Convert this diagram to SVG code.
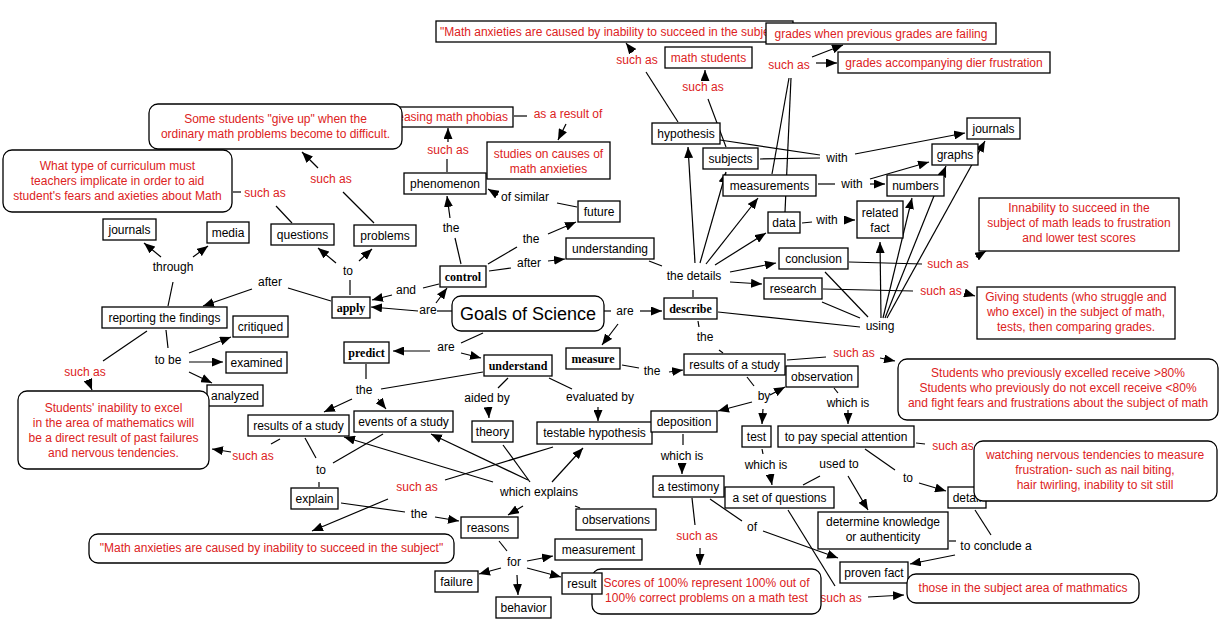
<svg xmlns="http://www.w3.org/2000/svg" width="1219" height="638" viewBox="0 0 1219 638">
<style>
.box{fill:#fff;stroke:#000;stroke-width:1.3}
text{font-family:"Liberation Sans",Arial,sans-serif;font-size:12px;text-anchor:middle;fill:#000}
.red{fill:#dc2222}
.bold{font-family:"Liberation Serif","Times New Roman",serif;font-weight:bold}
.big{font-size:18px}
#connectors line{stroke:#000;stroke-width:1.2}
#connectors line.ar{marker-end:url(#ah)}
</style>
<defs>
<marker id="ah" markerWidth="11" markerHeight="9" refX="11" refY="4.5" orient="auto" markerUnits="userSpaceOnUse"><path d="M0,0 L11,4.5 L0,9 z" fill="#000"/></marker>
</defs>
<rect width="1219" height="638" fill="#fff"/>
<g id="connectors">
<line x1="678" y1="122" x2="646" y2="72"/>
<line class="ar" x1="633" y1="52" x2="626" y2="43"/>
<line x1="726" y1="147" x2="708" y2="99"/>
<line class="ar" x1="705" y1="80" x2="705" y2="70"/>
<line x1="772" y1="174" x2="789" y2="78"/>
<line x1="785" y1="212" x2="791" y2="78"/>
<line class="ar" x1="812" y1="57" x2="843" y2="45"/>
<line class="ar" x1="816" y1="63" x2="837" y2="63"/>
<line x1="514" y1="116" x2="527" y2="116"/>
<line class="ar" x1="566" y1="124" x2="558" y2="140"/>
<line x1="447" y1="172" x2="447" y2="159"/>
<line class="ar" x1="448" y1="142" x2="448" y2="128"/>
<line x1="577" y1="207" x2="557" y2="203"/>
<line class="ar" x1="498" y1="195" x2="488" y2="189"/>
<line x1="461" y1="264" x2="455" y2="238"/>
<line class="ar" x1="450" y1="218" x2="447" y2="196"/>
<line x1="488" y1="264" x2="517" y2="247"/>
<line class="ar" x1="548" y1="234" x2="576" y2="222"/>
<line x1="489" y1="271" x2="511" y2="268"/>
<line class="ar" x1="548" y1="261" x2="565" y2="259"/>
<line x1="649" y1="261" x2="662" y2="266"/>
<line x1="439" y1="284" x2="423" y2="288"/>
<line class="ar" x1="392" y1="295" x2="372" y2="300"/>
<line x1="452" y1="311" x2="437" y2="311"/>
<line class="ar" x1="418" y1="311" x2="371" y2="307"/>
<line class="ar" x1="436" y1="303" x2="447" y2="288"/>
<line x1="350" y1="295" x2="350" y2="280"/>
<line class="ar" x1="336" y1="263" x2="318" y2="248"/>
<line class="ar" x1="359" y1="261" x2="372" y2="249"/>
<line x1="292" y1="223" x2="276" y2="206"/>
<line x1="241" y1="192" x2="233" y2="192"/>
<line x1="374" y1="223" x2="343" y2="192"/>
<line class="ar" x1="318" y1="168" x2="302" y2="152"/>
<line x1="331" y1="301" x2="288" y2="288"/>
<line class="ar" x1="252" y1="289" x2="203" y2="306"/>
<line x1="168" y1="306" x2="173" y2="282"/>
<line class="ar" x1="161" y1="257" x2="144" y2="243"/>
<line class="ar" x1="193" y1="257" x2="208" y2="246"/>
<line x1="166" y1="330" x2="168" y2="348"/>
<line class="ar" x1="189" y1="353" x2="231" y2="337"/>
<line class="ar" x1="189" y1="362" x2="223" y2="362"/>
<line class="ar" x1="189" y1="372" x2="212" y2="383"/>
<line x1="147" y1="331" x2="103" y2="361"/>
<line class="ar" x1="88" y1="380" x2="92" y2="390"/>
<line x1="483" y1="333" x2="461" y2="343"/>
<line class="ar" x1="430" y1="351" x2="393" y2="351"/>
<line class="ar" x1="461" y1="353" x2="481" y2="358"/>
<line x1="604" y1="311" x2="611" y2="311"/>
<line class="ar" x1="640" y1="311" x2="662" y2="311"/>
<line class="ar" x1="618" y1="324" x2="602" y2="345"/>
<line x1="693" y1="297" x2="693" y2="290"/>
<line class="ar" x1="695" y1="263" x2="688" y2="147"/>
<line class="ar" x1="700" y1="263" x2="726" y2="172"/>
<line class="ar" x1="706" y1="264" x2="758" y2="198"/>
<line class="ar" x1="715" y1="265" x2="766" y2="233"/>
<line class="ar" x1="730" y1="272" x2="776" y2="263"/>
<line class="ar" x1="730" y1="282" x2="762" y2="284"/>
<line x1="760" y1="159" x2="820" y2="158"/>
<line x1="720" y1="140" x2="820" y2="155"/>
<line class="ar" x1="855" y1="154" x2="965" y2="133"/>
<line x1="818" y1="184" x2="835" y2="184"/>
<line class="ar" x1="870" y1="184" x2="885" y2="184"/>
<line class="ar" x1="870" y1="179" x2="929" y2="162"/>
<line x1="802" y1="223" x2="812" y2="222"/>
<line class="ar" x1="844" y1="220" x2="855" y2="220"/>
<line class="ar" x1="881" y1="318" x2="880" y2="242"/>
<line class="ar" x1="883" y1="318" x2="912" y2="198"/>
<line class="ar" x1="885" y1="318" x2="946" y2="166"/>
<line class="ar" x1="887" y1="318" x2="985" y2="141"/>
<line x1="825" y1="272" x2="868" y2="317"/>
<line x1="822" y1="302" x2="860" y2="318"/>
<line x1="718" y1="312" x2="860" y2="327"/>
<line x1="849" y1="262" x2="922" y2="264"/>
<line class="ar" x1="976" y1="257" x2="986" y2="251"/>
<line x1="823" y1="289" x2="913" y2="291"/>
<line class="ar" x1="965" y1="293" x2="975" y2="296"/>
<line x1="698" y1="321" x2="699" y2="327"/>
<line x1="719" y1="350" x2="723" y2="353"/>
<line x1="622" y1="365" x2="639" y2="368"/>
<line class="ar" x1="669" y1="372" x2="683" y2="370"/>
<line x1="787" y1="360" x2="826" y2="357"/>
<line class="ar" x1="880" y1="358" x2="895" y2="361"/>
<line x1="747" y1="377" x2="754" y2="386"/>
<line class="ar" x1="770" y1="395" x2="785" y2="387"/>
<line class="ar" x1="752" y1="402" x2="718" y2="411"/>
<line class="ar" x1="763" y1="409" x2="762" y2="424"/>
<line x1="834" y1="388" x2="838" y2="393"/>
<line class="ar" x1="848" y1="410" x2="848" y2="424"/>
<line x1="683" y1="434" x2="683" y2="445"/>
<line class="ar" x1="682" y1="464" x2="682" y2="474"/>
<line x1="762" y1="449" x2="763" y2="454"/>
<line class="ar" x1="770" y1="474" x2="772" y2="485"/>
<line x1="803" y1="485" x2="820" y2="476"/>
<line class="ar" x1="848" y1="476" x2="868" y2="510"/>
<line x1="865" y1="449" x2="895" y2="470"/>
<line class="ar" x1="919" y1="483" x2="946" y2="491"/>
<line x1="916" y1="443" x2="925" y2="444"/>
<line x1="975" y1="510" x2="991" y2="535"/>
<line class="ar" x1="955" y1="555" x2="910" y2="564"/>
<line x1="949" y1="541" x2="956" y2="541"/>
<line x1="692" y1="498" x2="695" y2="525"/>
<line class="ar" x1="700" y1="548" x2="700" y2="565"/>
<line x1="710" y1="499" x2="742" y2="521"/>
<line class="ar" x1="763" y1="531" x2="838" y2="558"/>
<line x1="788" y1="510" x2="835" y2="586"/>
<line class="ar" x1="868" y1="597" x2="904" y2="595"/>
<line x1="508" y1="378" x2="498" y2="388"/>
<line class="ar" x1="488" y1="407" x2="489" y2="418"/>
<line x1="549" y1="378" x2="572" y2="389"/>
<line class="ar" x1="598" y1="407" x2="598" y2="421"/>
<line x1="483" y1="372" x2="381" y2="389"/>
<line x1="366" y1="364" x2="366" y2="379"/>
<line class="ar" x1="352" y1="399" x2="324" y2="412"/>
<line class="ar" x1="378" y1="399" x2="386" y2="409"/>
<line x1="305" y1="438" x2="316" y2="458"/>
<line x1="383" y1="434" x2="333" y2="463"/>
<line x1="319" y1="482" x2="319" y2="487"/>
<line x1="280" y1="439" x2="271" y2="444"/>
<line class="ar" x1="231" y1="452" x2="212" y2="449"/>
<line x1="341" y1="503" x2="405" y2="512"/>
<line class="ar" x1="435" y1="517" x2="459" y2="521"/>
<line x1="553" y1="447" x2="445" y2="480"/>
<line class="ar" x1="388" y1="499" x2="312" y2="531"/>
<line class="ar" x1="493" y1="482" x2="344" y2="437"/>
<line class="ar" x1="528" y1="480" x2="431" y2="434"/>
<line class="ar" x1="552" y1="482" x2="583" y2="448"/>
<line x1="503" y1="445" x2="530" y2="482"/>
<line class="ar" x1="523" y1="506" x2="508" y2="515"/>
<line x1="575" y1="506" x2="580" y2="508"/>
<line x1="499" y1="541" x2="507" y2="551"/>
<line class="ar" x1="527" y1="561" x2="553" y2="556"/>
<line class="ar" x1="527" y1="568" x2="561" y2="577"/>
<line class="ar" x1="501" y1="568" x2="479" y2="574"/>
<line class="ar" x1="517" y1="575" x2="518" y2="595"/>
</g>
<g id="linking-phrases">
<text id="lp1" class="red" x="637" y="64">such as</text>
<text id="lp2" class="red" x="703" y="91">such as</text>
<text id="lp3" class="red" x="789" y="69">such as</text>
<text id="lp4" class="red" x="568" y="118">as a result of</text>
<text id="lp5" class="red" x="448" y="154">such as</text>
<text id="lp6" x="525" y="201">of similar</text>
<text id="lp7" x="451" y="232">the</text>
<text id="lp8" x="531" y="243">the</text>
<text id="lp9" x="529" y="267">after</text>
<text id="lp10" x="406" y="294">and</text>
<text id="lp11" x="428" y="314">are</text>
<text id="lp12" x="625" y="315">are</text>
<text id="lp13" x="446" y="351">are</text>
<text id="lp14" x="348" y="275">to</text>
<text id="lp15" class="red" x="265" y="197">such as</text>
<text id="lp16" class="red" x="331" y="183">such as</text>
<text id="lp17" x="173" y="271">through</text>
<text id="lp18" x="270" y="286">after</text>
<text id="lp19" x="168" y="364">to be</text>
<text id="lp20" class="red" x="85" y="376">such as</text>
<text id="lp21" x="694" y="280">the details</text>
<text id="lp22" x="837" y="162">with</text>
<text id="lp23" x="852" y="188">with</text>
<text id="lp24" x="827" y="224">with</text>
<text id="lp25" x="880" y="330">using</text>
<text id="lp26" class="red" x="948" y="268">such as</text>
<text id="lp27" class="red" x="941" y="295">such as</text>
<text id="lp28" x="705" y="341">the</text>
<text id="lp29" x="652" y="375">the</text>
<text id="lp30" class="red" x="854" y="357">such as</text>
<text id="lp31" x="764" y="400">by</text>
<text id="lp32" x="848" y="407">which is</text>
<text id="lp33" x="682" y="460">which is</text>
<text id="lp34" x="766" y="469">which is</text>
<text id="lp35" x="839" y="468">used to</text>
<text id="lp36" x="908" y="482">to</text>
<text id="lp37" class="red" x="953" y="450">such as</text>
<text id="lp38" x="996" y="550">to conclude a</text>
<text id="lp39" x="752" y="531">of</text>
<text id="lp40" class="red" x="697" y="540">such as</text>
<text id="lp41" class="red" x="841" y="602">such as</text>
<text id="lp42" x="487" y="402">aided by</text>
<text id="lp43" x="600" y="401">evaluated by</text>
<text id="lp44" x="364" y="394">the</text>
<text id="lp45" x="321" y="474">to</text>
<text id="lp46" class="red" x="253" y="460">such as</text>
<text id="lp47" x="419" y="518">the</text>
<text id="lp48" class="red" x="417" y="491">such as</text>
<text id="lp49" x="539" y="496">which explains</text>
<text id="lp50" x="514" y="566">for</text>
</g>
<g id="nodes">
<g id="n-math-top"><rect class="box" x="436" y="21" width="357" height="21"/><text class="red" x="440" y="35.5" style="text-anchor:start">"Math anxieties are caused by inability to succeed in the subject"</text></g>
<g id="n-grades-failing"><rect class="box" x="766" y="23" width="230" height="21"/><text class="red" x="881" y="38">grades when previous grades are failing</text></g>
<g id="n-math-students"><rect class="box" x="665" y="47" width="87" height="21"/><text class="red" x="708.5" y="62">math students</text></g>
<g id="n-grades-acc"><rect class="box" x="838" y="52" width="212" height="21"/><text class="red" x="944" y="67">grades accompanying dier frustration</text></g>
<g id="n-phobias"><rect class="box" x="372" y="107" width="141" height="20"/><text class="red" x="508" y="121" style="text-anchor:end">increasing math phobias</text></g>
<g id="n-give-up"><rect class="box" x="149" y="104" width="253" height="45" rx="9"/><text class="red" x="275.5" y="123">Some students "give up" when the<tspan x="275.5" dy="15">ordinary math problems become to difficult.</tspan></text></g>
<g id="n-studies"><rect class="box" x="487" y="142" width="123" height="37"/><text class="red" x="548.5" y="158">studies on causes of<tspan x="548.5" dy="15">math anxieties</tspan></text></g>
<g id="n-phenomenon"><rect class="box" x="404" y="173" width="82" height="21"/><text x="445" y="188">phenomenon</text></g>
<g id="n-future"><rect class="box" x="578" y="201" width="42" height="21"/><text x="599" y="216">future</text></g>
<g id="n-hypothesis"><rect class="box" x="652" y="123" width="68" height="21"/><text x="686" y="138">hypothesis</text></g>
<g id="n-subjects"><rect class="box" x="703" y="148" width="55" height="21"/><text x="730.5" y="163">subjects</text></g>
<g id="n-measurements"><rect class="box" x="723" y="175" width="93" height="21"/><text x="769.5" y="190">measurements</text></g>
<g id="n-data"><rect class="box" x="768" y="212" width="32" height="21"/><text x="784" y="227">data</text></g>
<g id="n-related-fact"><rect class="box" x="857" y="201" width="46" height="37"/><text x="880" y="217">related<tspan x="880" dy="15">fact</tspan></text></g>
<g id="n-numbers"><rect class="box" x="887" y="175" width="57" height="21"/><text x="915.5" y="190">numbers</text></g>
<g id="n-graphs"><rect class="box" x="932" y="144" width="46" height="21"/><text x="955" y="159">graphs</text></g>
<g id="n-journals-r"><rect class="box" x="967" y="118" width="53" height="21"/><text x="993.5" y="133">journals</text></g>
<g id="n-conclusion"><rect class="box" x="779" y="248" width="69" height="21"/><text x="813.5" y="263">conclusion</text></g>
<g id="n-research"><rect class="box" x="764" y="278" width="58" height="21"/><text x="793" y="293">research</text></g>
<g id="n-describe"><rect class="box" x="664" y="298" width="53" height="21"/><text class="bold" x="690.5" y="313">describe</text></g>
<g id="n-innability"><rect class="box" x="979" y="198" width="200" height="53"/><text class="red" x="1079" y="212">Innability to succeed in the<tspan x="1079" dy="15">subject of math leads to frustration</tspan><tspan x="1079" dy="15">and lower test scores</tspan></text></g>
<g id="n-giving"><rect class="box" x="977" y="287" width="198" height="52"/><text class="red" x="1076" y="301">Giving students (who struggle and<tspan x="1076" dy="15">who excel) in the subject of math,</tspan><tspan x="1076" dy="15">tests, then comparing grades.</tspan></text></g>
<g id="n-students-prev"><rect class="box" x="898" y="359" width="320" height="61" rx="9"/><text class="red" x="1058" y="377">Students who previously excelled receive &gt;80%<tspan x="1058" dy="15">Students who previously do not excell receive &lt;80%</tspan><tspan x="1058" dy="15">and fight fears and frustrations about the subject of math</tspan></text></g>
<g id="n-results-r"><rect class="box" x="684" y="354" width="101" height="21"/><text x="734.5" y="369">results of a study</text></g>
<g id="n-observation"><rect class="box" x="786" y="366" width="72" height="21"/><text x="822" y="381">observation</text></g>
<g id="n-measure"><rect class="box" x="566" y="348" width="54" height="21"/><text class="bold" x="593" y="363">measure</text></g>
<g id="n-testable"><rect class="box" x="537" y="422" width="115" height="22"/><text x="594.5" y="437">testable hypothesis</text></g>
<g id="n-deposition"><rect class="box" x="651" y="411" width="66" height="21"/><text x="684" y="426">deposition</text></g>
<g id="n-test"><rect class="box" x="742" y="426" width="29" height="21"/><text x="756.5" y="441">test</text></g>
<g id="n-pay-attention"><rect class="box" x="778" y="426" width="136" height="21"/><text x="846" y="441">to pay special attention</text></g>
<g id="n-detail"><rect class="box" x="948" y="487" width="38" height="21"/><text x="967" y="502">detail</text></g>
<g id="n-watching"><rect class="box" x="974" y="441" width="243" height="60" rx="9"/><text class="red" x="1095" y="459">watching nervous tendencies to measure<tspan x="1095" dy="15">frustration- such as nail biting,</tspan><tspan x="1095" dy="15">hair twirling, inability to sit still</tspan></text></g>
<g id="n-testimony"><rect class="box" x="653" y="476" width="71" height="21"/><text x="688.5" y="491">a testimony</text></g>
<g id="n-set-questions"><rect class="box" x="725" y="487" width="109" height="21"/><text x="779.5" y="502">a set of questions</text></g>
<g id="n-determine"><rect class="box" x="818" y="512" width="130" height="37"/><text x="883" y="526">determine knowledge<tspan x="883" dy="15">or authenticity</tspan></text></g>
<g id="n-proven-fact"><rect class="box" x="840" y="562" width="68" height="21"/><text x="874" y="577">proven fact</text></g>
<g id="n-those-in"><rect class="box" x="907" y="574" width="232" height="29" rx="9"/><text class="red" x="1023" y="592">those in the subject area of mathmatics</text></g>
<g id="n-scores"><rect class="box" x="592" y="569" width="229" height="45" rx="9"/><text class="red" x="706.5" y="587">Scores of 100% represent 100% out of<tspan x="706.5" dy="15">100% correct problems on a math test</tspan></text></g>
<g id="n-result"><rect class="box" x="562" y="573" width="40" height="21"/><text x="582" y="588">result</text></g>
<g id="n-measurement"><rect class="box" x="555" y="539" width="87" height="21"/><text x="598.5" y="554">measurement</text></g>
<g id="n-failure"><rect class="box" x="435" y="571" width="43" height="21"/><text x="456.5" y="586">failure</text></g>
<g id="n-behavior"><rect class="box" x="496" y="597" width="55" height="21"/><text x="523.5" y="612">behavior</text></g>
<g id="n-reasons"><rect class="box" x="461" y="517" width="57" height="21"/><text x="488" y="532">reasons</text></g>
<g id="n-observations"><rect class="box" x="576" y="509" width="80" height="21"/><text x="616" y="524">observations</text></g>
<g id="n-theory"><rect class="box" x="472" y="421" width="41" height="21"/><text x="492.5" y="436">theory</text></g>
<g id="n-understand"><rect class="box" x="484" y="355" width="68" height="21"/><text class="bold" x="518" y="370">understand</text></g>
<g id="n-predict"><rect class="box" x="344" y="342" width="45" height="21"/><text class="bold" x="366.5" y="357">predict</text></g>
<g id="n-goals"><rect class="box" x="452" y="296" width="152" height="35" rx="9"/><text class="big" x="528" y="320">Goals of Science</text></g>
<g id="n-control"><rect class="box" x="440" y="266" width="46" height="21"/><text class="bold" x="463" y="281">control</text></g>
<g id="n-apply"><rect class="box" x="332" y="297" width="38" height="21"/><text class="bold" x="351" y="312">apply</text></g>
<g id="n-understanding"><rect class="box" x="566" y="238" width="88" height="21"/><text x="610" y="253">understanding</text></g>
<g id="n-questions"><rect class="box" x="271" y="224" width="63" height="21"/><text x="302.5" y="239">questions</text></g>
<g id="n-problems"><rect class="box" x="354" y="225" width="62" height="21"/><text x="385" y="240">problems</text></g>
<g id="n-what-type"><rect class="box" x="3" y="150" width="229" height="62" rx="9"/><text class="red" x="117.5" y="170">What type of curriculum must<tspan x="117.5" dy="15">teachers implicate in order to aid</tspan><tspan x="117.5" dy="15">student's fears and axieties about Math</tspan></text></g>
<g id="n-journals-l"><rect class="box" x="103" y="219" width="53" height="21"/><text x="129.5" y="234">journals</text></g>
<g id="n-media"><rect class="box" x="207" y="222" width="42" height="21"/><text x="228" y="237">media</text></g>
<g id="n-reporting"><rect class="box" x="102" y="307" width="125" height="21"/><text x="164.5" y="322">reporting the findings</text></g>
<g id="n-critiqued"><rect class="box" x="233" y="316" width="55" height="21"/><text x="260.5" y="331">critiqued</text></g>
<g id="n-examined"><rect class="box" x="226" y="352" width="61" height="21"/><text x="256.5" y="367">examined</text></g>
<g id="n-analyzed"><rect class="box" x="207" y="385" width="56" height="21"/><text x="235" y="400">analyzed</text></g>
<g id="n-students-inab"><rect class="box" x="18" y="391" width="191" height="78" rx="9"/><text class="red" x="113.5" y="412">Students' inability to excel<tspan x="113.5" dy="15">in the area of mathematics will</tspan><tspan x="113.5" dy="15">be a direct result of past failures</tspan><tspan x="113.5" dy="15">and nervous tendencies.</tspan></text></g>
<g id="n-results-l"><rect class="box" x="248" y="415" width="101" height="21"/><text x="298.5" y="430">results of a study</text></g>
<g id="n-events"><rect class="box" x="354" y="411" width="99" height="21"/><text x="403.5" y="426">events of a study</text></g>
<g id="n-explain"><rect class="box" x="291" y="488" width="47" height="21"/><text x="314.5" y="503">explain</text></g>
<g id="n-math-bottom"><rect class="box" x="89" y="534" width="365" height="29" rx="9"/><text class="red" x="271.5" y="552">"Math anxieties are caused by inability to succeed in the subject"</text></g>
</g>
</svg>
